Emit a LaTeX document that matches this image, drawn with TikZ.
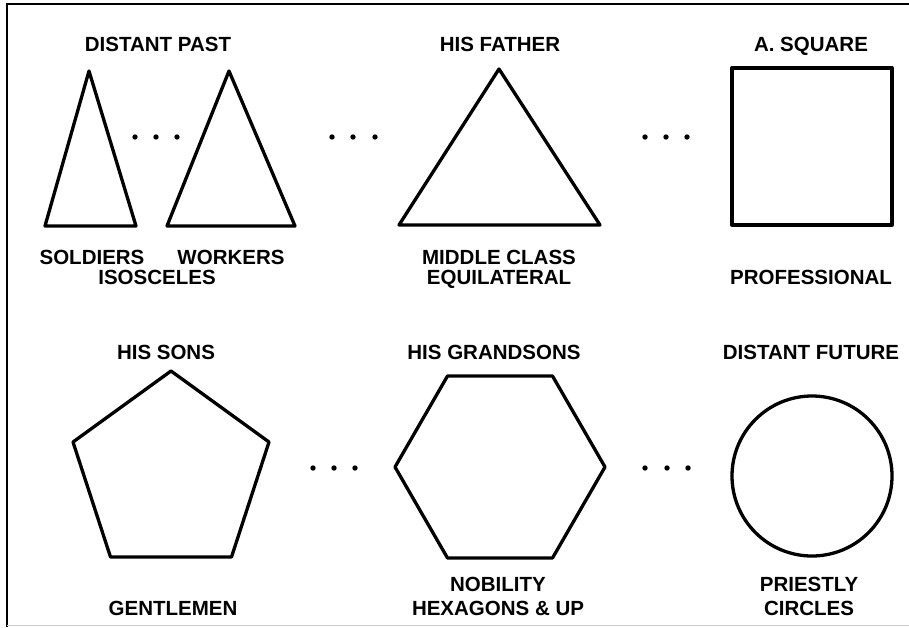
\documentclass[tikz,border=0pt]{standalone}
\usepackage{fontspec}
\setmainfont{Liberation Sans}
\begin{document}
\begin{tikzpicture}[x=1pt,y=-1pt,
  lbl/.style={font=\fontsize{20.5}{22}\selectfont\bfseries, anchor=base, inner sep=0pt},
  shp/.style={line width=3.3pt, line join=round, black},
  dotm/.style={fill=black, draw=none},
  frame/.style={line width=1.8pt, black}]
\useasboundingbox (0,0) rectangle (909,627);
% frame
\draw[frame] (7,627) -- (7,4) -- (909,4);
\draw[gray!40, line width=0.8pt] (7,625) -- (909,625);
% ---------- top row ----------
\node[lbl] (t1) at (158,51) {DISTANT PAST};
\node[lbl] (t2) at (500,51) {HIS FATHER};
\node[lbl] (t3) at (811,51) {A. SQUARE};
% isosceles triangles
\draw[shp] (89,71) -- (136,226) -- (45,226) -- cycle;
\draw[shp] (229,71) -- (295,226) -- (167,226) -- cycle;
% equilateral
\draw[shp] (499,69) -- (600,225) -- (399,225) -- cycle;
% square
\draw[shp] (732,68) rectangle (892,225);
% dots
\foreach \x in {135,156,177,332,353,375,645,666,687}
  \fill[dotm] (\x,137) circle (2.7);
\node[lbl] (s1) at (92,264) {SOLDIERS};
\node[lbl] (s2) at (231,264) {WORKERS};
\node[lbl] (s3) at (157,284) {ISOSCELES};
\node[lbl] (m1) at (499,264) {MIDDLE CLASS};
\node[lbl] (m2) at (499,284) {EQUILATERAL};
\node[lbl] (p1) at (811,284) {PROFESSIONAL};
% ---------- bottom row ----------
\node[lbl] (b1) at (166,359) {HIS SONS};
\node[lbl] (b2) at (494,359) {HIS GRANDSONS};
\node[lbl] (b3) at (811,359) {DISTANT FUTURE};
% pentagon
\draw[shp] (171,371) -- (269,442) -- (231.5,557) -- (110.5,557) -- (73,442) -- cycle;
% hexagon
\draw[shp] (605,467) -- (552.5,376) -- (447.5,376) -- (395,467) -- (447.5,558) -- (552.5,558) -- cycle;
% circle
\draw[shp] (812,476) circle (80);
\foreach \x in {313,334,355,645,667,688}
  \fill[dotm] (\x,468) circle (2.7);
\node[lbl] (g1) at (173,615) {GENTLEMEN};
\node[lbl] (n1) at (498,591) {NOBILITY};
\node[lbl] (n2) at (498,615) {HEXAGONS \& UP};
\node[lbl] (c1) at (809,591) {PRIESTLY};
\node[lbl] (c2) at (809,615) {CIRCLES};
\end{tikzpicture}
\end{document}
